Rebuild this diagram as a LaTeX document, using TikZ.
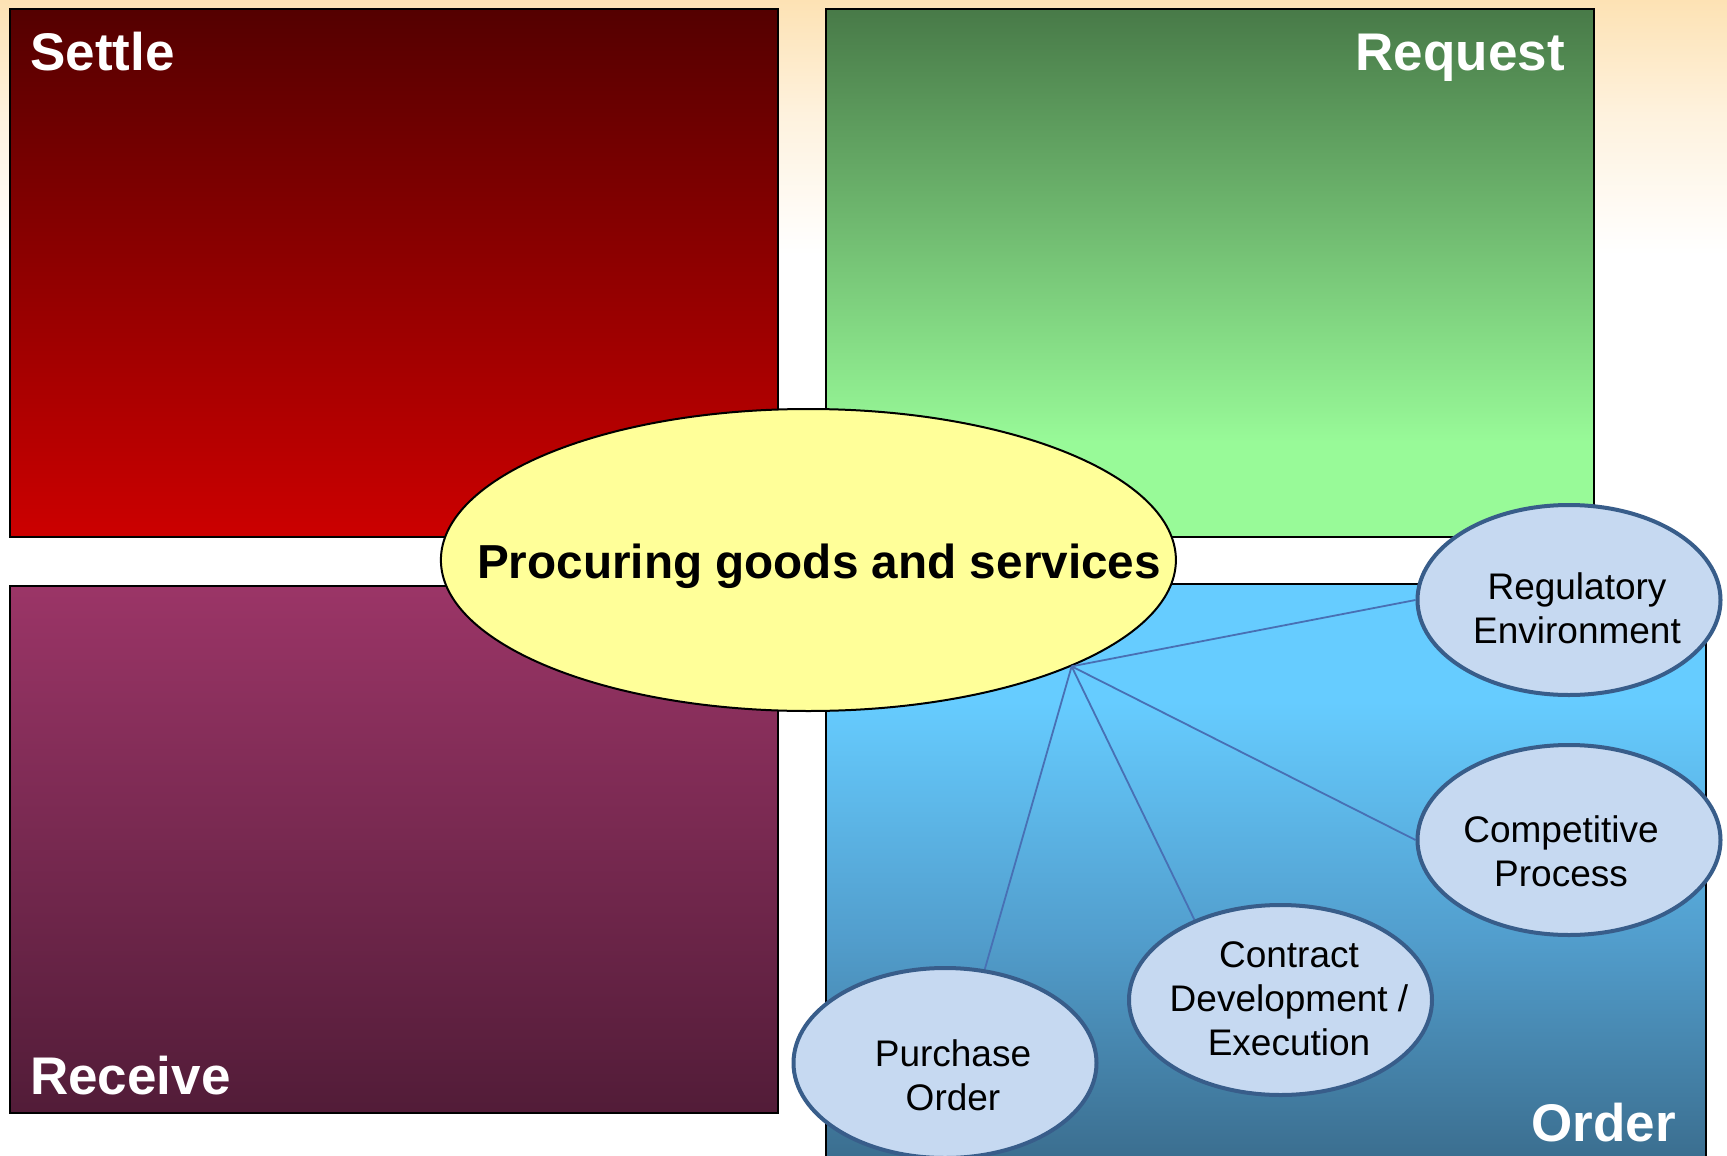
\documentclass[tikz,border=0pt]{standalone}
\usepackage{fontspec}
\setmainfont{Liberation Sans}
\usetikzlibrary{shapes.geometric}
\definecolor{peach}{RGB}{253,226,180}
\definecolor{bgmid}{RGB}{254,242,222}
\definecolor{settletop}{RGB}{84,0,0}
\definecolor{settlebot}{RGB}{204,0,0}
\definecolor{reqdark}{RGB}{72,122,72}
\definecolor{reqlight}{RGB}{152,250,152}
\definecolor{rectop}{RGB}{155,53,103}
\definecolor{recbot}{RGB}{82,28,56}
\definecolor{ordtop}{RGB}{102,204,255}
\definecolor{ordmid}{RGB}{82,158,205}
\definecolor{ordbot}{RGB}{59,110,143}
\definecolor{ctrfill}{RGB}{255,255,153}
\definecolor{subfill}{RGB}{198,217,241}
\definecolor{subline}{RGB}{56,93,138}
\definecolor{connline}{RGB}{72,112,180}
\pgfdeclareverticalshading{bgshade}{100bp}{color(0bp)=(white); color(64bp)=(white); color(70bp)=(bgmid); color(75bp)=(peach); color(100bp)=(peach)}
\pgfdeclareverticalshading{reqshade}{100bp}{color(0bp)=(reqlight); color(34bp)=(reqlight); color(75bp)=(reqdark); color(100bp)=(reqdark)}
\pgfdeclareverticalshading{ordshade}{100bp}{color(0bp)=(ordbot); color(26bp)=(ordbot); color(45bp)=(ordmid); color(65bp)=(ordtop); color(100bp)=(ordtop)}
\pgfdeclarelayer{backlayer}
\pgfdeclarelayer{connlayer}
\pgfsetlayers{backlayer,connlayer,main}
\begin{document}
\begin{tikzpicture}[x=1pt,y=-1pt,
  box/.style={draw=black, line width=2.4pt, rectangle, inner sep=0pt, anchor=north west},
  boxlabel/.style={text=white, inner sep=0pt, font=\bfseries\fontsize{53}{60}\selectfont},
  subell/.style={ellipse, draw=subline, fill=subfill, line width=4pt, minimum width=303, minimum height=190, inner sep=0pt},
  subtext/.style={inner sep=0pt, align=center, font=\fontsize{37}{44}\selectfont},
  conn/.style={draw=connline, line width=1.8pt}
]
\useasboundingbox (0,0) rectangle (1727,1156);
\begin{pgfonlayer}{backlayer}
\shade[shading=bgshade] (0,0) rectangle (1727,1156);

\node[box, shade, top color=settletop, bottom color=settlebot, minimum width=768, minimum height=528] (settle) at (9,8) {};
\node[box, shade, shading=reqshade, minimum width=768, minimum height=528] (request) at (825,8) {};
\node[box, shade, top color=rectop, bottom color=recbot, minimum width=768, minimum height=527] (receive) at (9,584.5) {};
\node[box, shade, shading=ordshade, minimum width=880, minimum height=587] (order) at (825,583) {};

\node[boxlabel, anchor=base west] (settlet) at (30,70.5) {Settle};
\node[boxlabel, anchor=base east] (requestt) at (1565,70.5) {Request};
\node[boxlabel, anchor=base west] (receivet) at (30,1094) {Receive};
\node[boxlabel, anchor=base east] (ordert) at (1676,1141) {Order};

\node[ellipse, draw=black, line width=2pt, fill=ctrfill, minimum width=735, minimum height=302, inner sep=0pt] (ctr) at (808.4,560) {};
\node[inner sep=0pt, anchor=base, font=\bfseries\fontsize{47.7}{55}\selectfont] (ctrt) at (819,578) {Procuring goods and services};
\end{pgfonlayer}

\node[subell] (reg) at (1569,600) {};
\node[subell] (comp) at (1569,840) {};
\node[subell] (con) at (1280.5,1000) {};
\node[subell] (pur) at (945,1063) {};

\begin{pgfonlayer}{connlayer}
\draw[conn] (ctr.-22.3) -- (reg.west);
\draw[conn] (ctr.-22.3) -- (comp.west);
\draw[conn] (ctr.-22.3) -- (con.137);
\draw[conn] (ctr.-22.3) -- (pur.67.6);
\end{pgfonlayer}

\node[subtext] (regt) at (1577,608.5) {Regulatory\\Environment};
\node[subtext] (compt) at (1561,851.5) {Competitive\\Process};
\node[subtext] (cont) at (1289,999) {Contract\\Development /\\Execution};
\node[subtext] (purt) at (953,1075.5) {Purchase\\Order};
\end{tikzpicture}
\end{document}
